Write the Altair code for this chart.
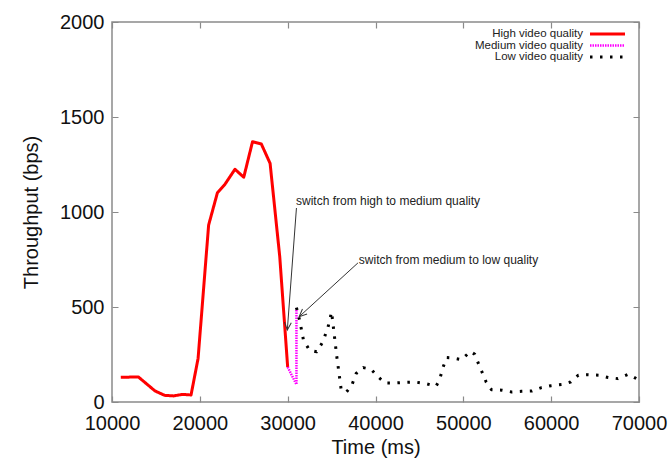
import math
import altair as alt
import pandas as pd

# ---------------- data ----------------
series_names = ["High video quality", "Medium video quality", "Low video quality"]
series_colors = ["#ff0000", "#ff00ff", "#000000"]
series_dash = [[1, 0], [1.5, 1], [2.5, 7.5]]
series_width = [3, 2.5, 3]

t_high = [11000, 13000, 14900, 16000, 17000, 18000, 19000, 19800, 21000, 22000,
          22800, 24000, 25000, 26000, 27000, 28000, 29100, 30000]
v_high = [130, 132, 58, 35, 32, 40, 37, 229, 931, 1101,
          1142, 1225, 1183, 1370, 1358, 1256, 764, 184]

t_med = [30000, 31000, 31000]
v_med = [184, 92, 495]

t_low = [31000, 31400, 31800, 32500, 33300, 34000, 34600, 35000, 35600, 35900,
         36100, 36700, 37300, 37800, 38600, 39500, 40300, 41100, 42200, 43300,
         44500, 45700, 46900, 47300, 47700, 48100, 48800, 49800, 50800, 51300,
         51800, 52200, 52600, 53200, 54400, 55500, 56600, 57800, 58900, 60000,
         61400, 62200, 63100, 64200, 65400, 66500, 67600, 68800, 69700]
v_low = [497, 422, 325, 272, 264, 316, 395, 474, 237, 132,
         62, 53, 88, 150, 181, 172, 132, 100, 100, 103,
         105, 97, 83, 118, 184, 234, 232, 223, 266, 251,
         193, 150, 105, 65, 62, 53, 56, 58, 76, 86,
         93, 105, 141, 144, 141, 129, 123, 146, 123]

x_ticks = [10000, 20000, 30000, 40000, 50000, 60000, 70000]
y_ticks = [0, 500, 1000, 1500, 2000]

ann_text = ["switch from high to medium quality", "switch from medium to low quality"]
ann_text_t = [30950, 38100]
ann_text_v = [1060, 747]
arrow_t0 = [31000, 38000]
arrow_v0 = [1021, 732]
arrow_t1 = [29960, 31310]
arrow_v1 = [379, 449]

# ---------------- layout ----------------
W, H = 527, 380
X_DOM = [10000, 70000]
Y_DOM = [0, 2000]
FONT = "Liberation Sans"
FRAME = "#8a8a8a"

xscale = alt.Scale(domain=X_DOM, nice=False, zero=False)
yscale = alt.Scale(domain=Y_DOM, nice=False)

xaxis = alt.Axis(values=x_ticks, format="d", title="Time (ms)", ticks=False, domain=False,
                 grid=True, gridDash=[6, H - 12], gridColor=FRAME, gridWidth=1.2,
                 labelFontSize=20, labelFont=FONT, labelColor="#111", labelPadding=11,
                 labelFlush=False, labelOverlap=False,
                 titleFontSize=20, titleFont=FONT, titleFontWeight="normal",
                 titleColor="#111", titlePadding=4)
yaxis = alt.Axis(values=y_ticks, format="d", title="Throughput (bps)", ticks=False, domain=False,
                 grid=True, gridDash=[6, W - 12], gridColor=FRAME, gridWidth=1.2,
                 labelFontSize=20, labelFont=FONT, labelColor="#111", labelPadding=8,
                 labelFlush=False, labelOverlap=False,
                 titleFontSize=20, titleFont=FONT, titleFontWeight="normal",
                 titleColor="#111", titlePadding=18)


def X():
    return alt.X("t:Q", scale=xscale, axis=xaxis)


def Y():
    return alt.Y("v:Q", scale=yscale, axis=yaxis)


layers = []
all_t = [t_high, t_med, t_low]
all_v = [v_high, v_med, v_low]
for k in range(3):
    df = pd.DataFrame({"t": all_t[k], "v": all_v[k], "i": list(range(len(all_t[k])))})
    layers.append(
        alt.Chart(df).mark_line(
            color=series_colors[k], strokeWidth=series_width[k],
            strokeDash=series_dash[k], strokeCap="butt", strokeJoin="round",
        ).encode(x=X(), y=Y(), order="i:Q")
    )

# annotations: arrows
sx = W / (X_DOM[1] - X_DOM[0])
sy = H / (Y_DOM[1] - Y_DOM[0])
angles = []
for a in range(len(ann_text)):
    dx = (arrow_t1[a] - arrow_t0[a]) * sx
    dy = -(arrow_v1[a] - arrow_v0[a]) * sy
    angles.append(math.degrees(math.atan2(dy, dx)) % 360)

arr = pd.DataFrame({"t": arrow_t0, "v": arrow_v0, "t2": arrow_t1, "v2": arrow_v1})
layers.append(
    alt.Chart(arr).mark_rule(color="#333", strokeWidth=1).encode(
        x=X(), y=Y(), x2="t2:Q", y2="v2:Q")
)
heads = pd.DataFrame({"t": arrow_t1, "v": arrow_v1, "ang": angles})
layers.append(
    alt.Chart(heads).mark_point(
        shape="M-1,-0.45L0,0L-1,0.45", size=230, filled=False,
        stroke="#333", strokeWidth=1, opacity=1,
    ).encode(x=X(), y=Y(), angle=alt.Angle("ang:Q", scale=None))
)
txt = pd.DataFrame({"t": ann_text_t, "v": ann_text_v, "label": ann_text})
layers.append(
    alt.Chart(txt).mark_text(align="left", baseline="middle", fontSize=12,
                             font=FONT, color="#222").encode(x=X(), y=Y(), text="label:N")
)

# legend (top-right, inside the plot, gnuplot style)
leg_df = pd.DataFrame({"name": series_names})
for k in range(3):
    yy = 12 + 11.5 * k
    layers.append(
        alt.Chart(leg_df.iloc[[k]]).mark_text(align="right", baseline="middle", fontSize=11.5,
                                             font=FONT, color="#222").encode(
            x=alt.value(471), y=alt.value(yy), text="name:N")
    )
    layers.append(
        alt.Chart(leg_df.iloc[[k]]).mark_rule(
            color=series_colors[k], strokeWidth=series_width[k],
            strokeDash=series_dash[k], strokeCap="butt").encode(
            x=alt.value(478), x2=alt.value(513), y=alt.value(yy))
    )

chart = alt.layer(*layers).properties(
    width=W, height=H,
    autosize=alt.AutoSizeParams(type="none"),
    padding={"left": 112, "top": 22, "right": 31, "bottom": 60},
    background="white",
).configure_view(stroke=FRAME, strokeWidth=1.5)

chart.save("out.html", embed_options={"renderer": "svg", "actions": False})
